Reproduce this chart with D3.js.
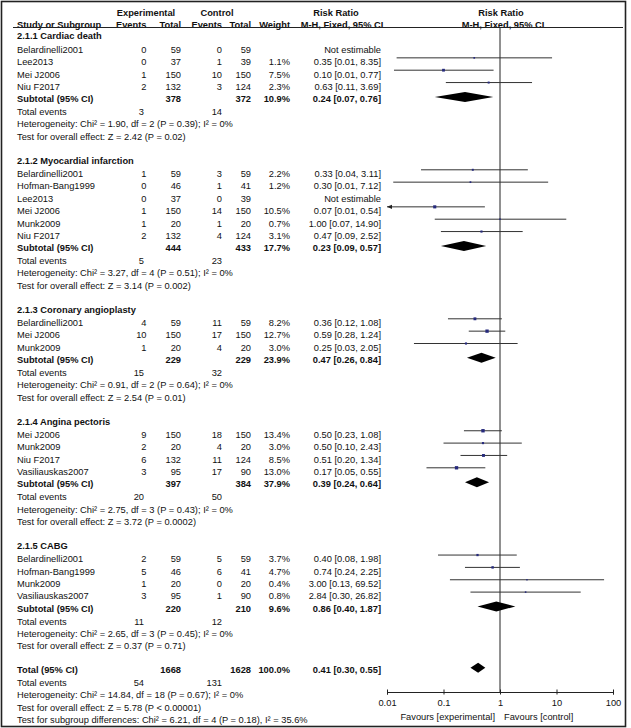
<!DOCTYPE html>
<html lang="en">
<head>
<meta charset="UTF-8">
<title>Forest plot</title>
<script src="https://d3js.org/d3.v7.min.js"></script>
<style>
    body { margin: 0; background: #fff; }
    svg text { font-family: "Liberation Sans", Arial, sans-serif; font-size: 9.3px; fill: #111; }
    .b { font-weight: bold; }
</style>
</head>
<body>
<div id="chart"></div>
<script>
// ---- data ----
const groupNames = ["2.1.1 Cardiac death", "2.1.2 Myocardial infarction", "2.1.3 Coronary angioplasty",
    "2.1.4 Angina pectoris", "2.1.5 CABG"];

const studyGroup = [0, 0, 0, 0, 1, 1, 1, 1, 1, 1, 2, 2, 2, 3, 3, 3, 3, 4, 4, 4, 4];
const studyNames = ["Belardinelli2001", "Lee2013", "Mei J2006", "Niu F2017",
    "Belardinelli2001", "Hofman-Bang1999", "Lee2013", "Mei J2006", "Munk2009", "Niu F2017",
    "Belardinelli2001", "Mei J2006", "Munk2009",
    "Mei J2006", "Munk2009", "Niu F2017", "Vasiliauskas2007",
    "Belardinelli2001", "Hofman-Bang1999", "Munk2009", "Vasiliauskas2007"];
const expEvents = [0, 0, 1, 2, 1, 0, 0, 1, 1, 2, 4, 10, 1, 9, 2, 6, 3, 2, 5, 1, 3];
const expTotal  = [59, 37, 150, 132, 59, 46, 37, 150, 20, 132, 59, 150, 20, 150, 20, 132, 95, 59, 46, 20, 95];
const ctlEvents = [0, 1, 10, 3, 3, 1, 0, 14, 1, 4, 11, 17, 4, 18, 4, 11, 17, 5, 6, 0, 1];
const ctlTotal  = [59, 39, 150, 124, 59, 41, 39, 150, 20, 124, 59, 150, 20, 150, 20, 124, 90, 59, 41, 20, 90];
const weights   = [null, 1.1, 7.5, 2.3, 2.2, 1.2, null, 10.5, 0.7, 3.1, 8.2, 12.7, 3.0, 13.4, 3.0, 8.5, 13.0, 3.7, 4.7, 0.4, 0.8];
const riskRatio = [null, 0.35, 0.10, 0.63, 0.33, 0.30, null, 0.07, 1.00, 0.47, 0.36, 0.59, 0.25, 0.50, 0.50, 0.51, 0.17, 0.40, 0.74, 3.00, 2.84];
const ciLow     = [null, 0.0148, 0.0133, 0.11, 0.04, 0.0129, null, 0.0096, 0.07, 0.09, 0.12, 0.28, 0.03, 0.23, 0.10, 0.20, 0.05, 0.08, 0.24, 0.13, 0.30];
const ciHigh    = [null, 8.35, 0.77, 3.69, 3.11, 7.12, null, 0.54, 14.90, 2.52, 1.08, 1.24, 2.05, 1.08, 2.43, 1.34, 0.55, 1.98, 2.25, 69.52, 26.82];

const subExpTotal  = [378, 444, 229, 397, 220];
const subCtlTotal  = [372, 433, 229, 384, 210];
const subWeight    = [10.9, 17.7, 23.9, 37.9, 9.6];
const subRR        = [0.24, 0.23, 0.47, 0.39, 0.86];
const subLow       = [0.07, 0.09, 0.26, 0.24, 0.40];
const subHigh      = [0.76, 0.57, 0.84, 0.64, 1.87];
const subExpEvents = [3, 5, 15, 20, 11];
const subCtlEvents = [14, 23, 32, 50, 12];
const hetChi = [1.90, 3.27, 0.91, 2.75, 2.65];
const hetDf  = [2, 4, 2, 3, 3];
const hetP   = ["0.39", "0.51", "0.64", "0.43", "0.45"];
const hetI2  = [0, 0, 0, 0, 0];
const testZ  = [2.42, 3.14, 2.54, 3.72, 0.37];
const testP  = ["= 0.02", "= 0.002", "= 0.01", "= 0.0002", "= 0.71"];

const totalExp = 1668, totalCtl = 1628, totalWeight = 100.0;
const totalRR = 0.41, totalLow = 0.30, totalHigh = 0.55;
const totalExpEvents = 54, totalCtlEvents = 131;
const totalHet = "Heterogeneity: Chi\u00b2 = 14.84, df = 18 (P = 0.67); I\u00b2 = 0%";
const totalTest = "Test for overall effect: Z = 5.78 (P < 0.00001)";
const subgroupTest = "Test for subgroup differences: Chi\u00b2 = 6.21, df = 4 (P = 0.18), I\u00b2 = 35.6%";

const axisTicks = [0.01, 0.1, 1, 10, 100];
const axisLabels = ["0.01", "0.1", "1", "10", "100"];

// ---- layout ----
const W = 631, H = 728;
const col = { study: 17, expEv: 146.5, expTot: 181, ctlEv: 222, ctlTot: 251, weight: 290, rr: 381 };

const svg = d3.select("#chart").append("svg")
    .attr("width", W).attr("height", H);

const x = d3.scaleLog().domain([0.01, 100]).range([387, 613]);
const axisY = 692;

function txt(xp, yp, s, anchor, bold) {
    svg.append("text")
        .attr("x", xp).attr("y", yp).attr("dy", "0.52em")
        .attr("text-anchor", anchor || "start")
        .attr("class", bold ? "b" : null)
        .text(s);
}
const f2 = v => v.toFixed(2);
const ciText = (r, l, h) => `${f2(r)} [${f2(l)}, ${f2(h)}]`;

// build row positions
let y = 34.5;
const rows = [];
groupNames.forEach((g, gi) => {
    rows.push({ type: "group", y: y, gi: gi });
    y += 13.5;
    studyNames.forEach((s, i) => {
        if (studyGroup[i] !== gi) return;
        rows.push({ type: "study", y: y, i: i });
        y += 12.35;
    });
    rows.push({ type: "subtotal", y: y, gi: gi }); y += 12.8;
    rows.push({ type: "events", y: y, gi: gi }); y += 12.3;
    rows.push({ type: "het", y: y, gi: gi }); y += 12.5;
    rows.push({ type: "test", y: y, gi: gi }); y += 23.8;
});
const totalY = y;

// headers
txt(146, 11, "Experimental", "middle", true);
txt(217, 11, "Control", "middle", true);
txt(336, 11, "Risk Ratio", "middle", true);
txt(501, 11, "Risk Ratio", "middle", true);
txt(col.study, 23.5, "Study or Subgroup", "start", true);
txt(col.expEv, 23.5, "Events", "end", true);
txt(col.expTot, 23.5, "Total", "end", true);
txt(col.ctlEv, 23.5, "Events", "end", true);
txt(col.ctlTot, 23.5, "Total", "end", true);
txt(col.weight, 23.5, "Weight", "end", true);
txt(342, 23.5, "M-H, Fixed, 95% CI", "middle", true);
txt(503, 23.5, "M-H, Fixed, 95% CI", "middle", true);

svg.append("line").attr("x1", 13).attr("x2", 623).attr("y1", 27.5).attr("y2", 27.5)
    .attr("stroke", "#222").attr("stroke-width", 1);

// line of no effect
svg.append("line").attr("x1", x(1)).attr("x2", x(1)).attr("y1", 27.5).attr("y2", axisY)
    .attr("stroke", "#222").attr("stroke-width", 1);

function diamond(yc, r, l, h) {
    const hh = 5;
    svg.append("path")
        .attr("d", `M${x(l)},${yc}L${x(r)},${yc - hh}L${x(h)},${yc}L${x(r)},${yc + hh}Z`)
        .attr("fill", "#000");
}

rows.forEach(row => {
    const yc = row.y;
    if (row.type === "group") {
        txt(col.study, yc, groupNames[row.gi], "start", true);
    } else if (row.type === "study") {
        const i = row.i;
        txt(col.study, yc, studyNames[i]);
        txt(col.expEv, yc, expEvents[i], "end");
        txt(col.expTot, yc, expTotal[i], "end");
        txt(col.ctlEv, yc, ctlEvents[i], "end");
        txt(col.ctlTot, yc, ctlTotal[i], "end");
        if (weights[i] === null) {
            txt(col.rr, yc, "Not estimable", "end");
            return;
        }
        txt(col.weight, yc, weights[i].toFixed(1) + "%", "end");
        txt(col.rr, yc, ciText(riskRatio[i], ciLow[i], ciHigh[i]), "end");
        const ym = yc - 2.5;   // marks sit a little above the text line
        const lo = Math.max(ciLow[i], 0.01), hi = Math.min(ciHigh[i], 100);
        svg.append("line")
            .attr("x1", x(lo)).attr("x2", x(hi)).attr("y1", ym).attr("y2", ym)
            .attr("stroke", "#333").attr("stroke-width", 1);
        if (ciLow[i] < 0.01) {
            const ax = x(0.01);
            svg.append("path")
                .attr("d", `M${ax},${ym}L${ax + 5},${ym - 2.2}L${ax + 5},${ym + 2.2}Z`)
                .attr("fill", "#222");
        }
        const side = 1 + Math.sqrt(weights[i]) * 0.65;
        svg.append("rect")
            .attr("x", x(riskRatio[i]) - side / 2).attr("y", ym - side / 2)
            .attr("width", side).attr("height", side)
            .attr("fill", "#262a7c");
    } else if (row.type === "subtotal") {
        const g = row.gi;
        txt(col.study, yc, "Subtotal (95% CI)", "start", true);
        txt(col.expTot, yc, subExpTotal[g], "end", true);
        txt(col.ctlTot, yc, subCtlTotal[g], "end", true);
        txt(col.weight, yc, subWeight[g].toFixed(1) + "%", "end", true);
        txt(col.rr, yc, ciText(subRR[g], subLow[g], subHigh[g]), "end", true);
        diamond(yc - 0.5, subRR[g], subLow[g], subHigh[g]);
    } else if (row.type === "events") {
        txt(col.study, yc, "Total events");
        txt(144, yc, subExpEvents[row.gi], "end");
        txt(col.ctlEv, yc, subCtlEvents[row.gi], "end");
    } else if (row.type === "het") {
        const g = row.gi;
        txt(col.study, yc, `Heterogeneity: Chi\u00b2 = ${hetChi[g].toFixed(2)}, df = ${hetDf[g]} (P = ${hetP[g]}); I\u00b2 = ${hetI2[g]}%`);
    } else if (row.type === "test") {
        const g = row.gi;
        txt(col.study, yc, `Test for overall effect: Z = ${testZ[g].toFixed(2)} (P ${testP[g]})`);
    }
});

// overall total
txt(col.study, totalY, "Total (95% CI)", "start", true);
txt(col.expTot, totalY, totalExp, "end", true);
txt(col.ctlTot, totalY, totalCtl, "end", true);
txt(col.weight, totalY, totalWeight.toFixed(1) + "%", "end", true);
txt(col.rr, totalY, ciText(totalRR, totalLow, totalHigh), "end", true);
diamond(totalY - 0.5, totalRR, totalLow, totalHigh);
txt(col.study, totalY + 12.8, "Total events");
txt(144, totalY + 12.8, totalExpEvents, "end");
txt(col.ctlEv, totalY + 12.8, totalCtlEvents, "end");
txt(col.study, totalY + 25.3, totalHet);
txt(col.study, totalY + 37.7, totalTest);
txt(col.study, totalY + 50.1, subgroupTest);

// axis
const axis = d3.axisBottom(x)
    .tickValues(axisTicks)
    .tickFormat((d, i) => axisLabels[i])
    .tickSizeOuter(0)
    .tickSize(2.5)
    .tickPadding(5);
const ag = svg.append("g").attr("transform", `translate(0,${axisY})`).call(axis);
ag.select(".domain").attr("stroke", "#222");
ag.selectAll(".tick line").attr("y1", -2.5).attr("y2", 2.5).attr("stroke", "#222");
ag.selectAll(".tick text")
    .style("font-family", '"Liberation Sans", Arial, sans-serif')
    .style("font-size", "9.3px").attr("fill", "#111");

txt(495, 715, "Favours [experimental]", "end");
txt(504, 715, "Favours [control]", "start");

// frame
svg.append("rect").attr("x", 1.5).attr("y", 1.5).attr("width", 624).attr("height", 725)
    .attr("fill", "none").attr("stroke", "#222").attr("stroke-width", 1.6);
</script>
</body>
</html>
